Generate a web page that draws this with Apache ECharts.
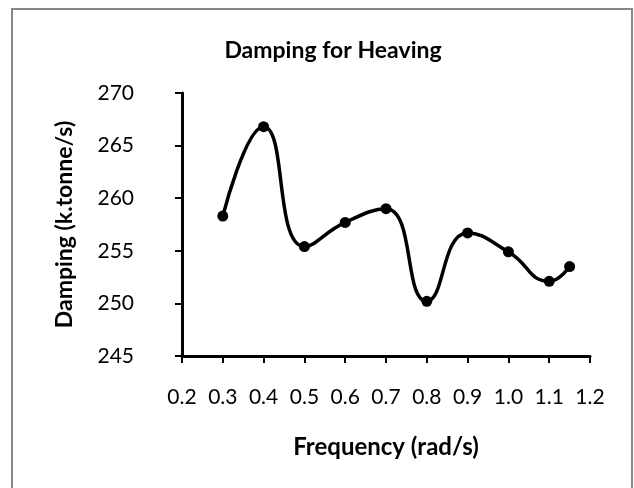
<!DOCTYPE html>
<html>
<head>
<meta charset="utf-8">
<script src="https://cdn.jsdelivr.net/npm/echarts@6/dist/echarts.min.js"></script>
<style>
  html, body { margin: 0; padding: 0; background: #fff; }
  #chart { width: 634px; height: 488px; }
</style>
</head>
<body>
<div id="chart"></div>
<script>
// Heave damping versus wave frequency
const frequency = [0.3, 0.4, 0.5, 0.6, 0.7, 0.8, 0.9, 1.0, 1.1, 1.15];
const damping = [258.3, 266.8, 255.4, 257.7, 259.0, 250.2, 256.7, 254.9, 252.1, 253.5];

const chartTitle = 'Damping for Heaving';
const xName = 'Frequency (rad/s)';
const yName = 'Damping (k.tonne/s)';

const FONT = 'Lato, "Open Sans", sans-serif';

const chart = echarts.init(document.getElementById('chart'));
chart.setOption({
  backgroundColor: '#ffffff',
  animation: false,
  title: {
    text: chartTitle,
    left: 328,
    top: 34,
    textAlign: 'center',
    textStyle: { fontFamily: FONT, fontWeight: 'bold', fontSize: 23, color: '#000' }
  },
  graphic: [{
    type: 'rect',
    shape: { x: 12, y: 9, width: 620, height: 520 },
    style: { fill: 'none', stroke: '#888888', lineWidth: 2 },
    silent: true
  }],
  grid: { left: 182, top: 93, right: 44, bottom: 132, containLabel: false },
  xAxis: {
    type: 'value',
    min: 0.2,
    max: 1.2,
    interval: 0.1,
    name: xName,
    nameLocation: 'middle',
    nameGap: 79,
    nameTextStyle: { fontFamily: FONT, fontWeight: 'bold', fontSize: 24, color: '#000' },
    axisLine: { show: true, onZero: false, lineStyle: { color: '#000', width: 3 } },
    axisTick: { show: true, inside: false, length: 7, lineStyle: { color: '#000', width: 2 } },
    axisLabel: {
      margin: 31,
      fontFamily: FONT, fontSize: 21, color: '#000',
      formatter: v => v.toFixed(1)
    },
    splitLine: { show: false }
  },
  yAxis: {
    type: 'value',
    min: 245,
    max: 270,
    interval: 5,
    name: yName,
    nameLocation: 'middle',
    nameGap: 106,
    nameTextStyle: { fontFamily: FONT, fontWeight: 'bold', fontSize: 23, color: '#000' },
    axisLine: { show: true, onZero: false, lineStyle: { color: '#000', width: 3 } },
    axisTick: { show: true, inside: false, length: 7, lineStyle: { color: '#000', width: 2 } },
    axisLabel: { margin: 48, fontFamily: FONT, fontSize: 21, color: '#000' },
    splitLine: { show: false }
  },
  series: [{
    type: 'line',
    data: frequency.map((f, i) => [f, damping[i]]),
    smooth: 0.5,
    symbol: 'circle',
    symbolSize: 11,
    showSymbol: true,
    lineStyle: { color: '#000', width: 3.5 },
    itemStyle: { color: '#000' }
  }]
});
</script>
</body>
</html>
